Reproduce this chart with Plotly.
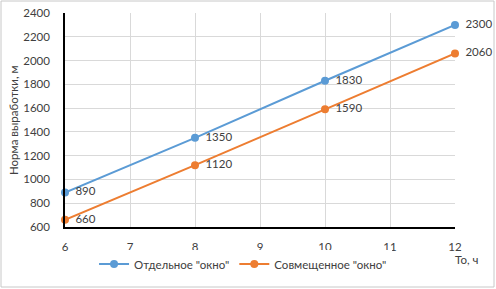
import plotly.graph_objects as go

x_vals = [6, 8, 10, 12]
separate = [890, 1350, 1830, 2300]
combined = [660, 1120, 1590, 2060]
series_names = ['Отдельное "окно"', 'Совмещенное "окно"']
colors = ["#5B9BD5", "#ED7D31"]

W, H = 496, 289
L, R, T, B = 65, 41, 13, 62
PW, PH = W - L - R, H - T - B

fig = go.Figure()
for name, vals, col in zip(series_names, [separate, combined], colors):
    fig.add_trace(go.Scatter(
        x=x_vals, y=vals, name=name, mode="lines+markers+text",
        line=dict(color=col, width=2), marker=dict(color=col, size=8),
        text=[" \u2009" + str(v) for v in vals], textposition="middle right",
        textfont=dict(size=11.5, color="#404040"), cliponaxis=False,
    ))

font = "Lato, Carlito, 'Liberation Sans', sans-serif"
fig.update_layout(
    width=W, height=H,
    margin=dict(l=L, r=R, t=T, b=B, autoexpand=False),
    paper_bgcolor="white", plot_bgcolor="white",
    font=dict(family=font, size=11.5, color="#404040"),
    showlegend=True,
    legend=dict(orientation="h", x=0.49, xref="container", xanchor="center",
                y=(H - 264) / H, yref="container", yanchor="middle",
                font=dict(size=11.5, color="#404040"), itemwidth=30),
    xaxis=dict(range=[6, 12], dtick=1, showgrid=True, gridcolor="#D9D9D9",
               showline=True, linecolor="black", linewidth=1.5, zeroline=False,
               ticks="", ticklen=0, ticklabelstandoff=8, automargin=False),
    yaxis=dict(range=[600, 2400], dtick=200, showgrid=True, gridcolor="#D9D9D9",
               showline=True, linecolor="black", linewidth=1.5, zeroline=False,
               ticks="", ticklabelstandoff=11, automargin=False),
    annotations=[
        dict(text="То, ч", x=(453 - L) / PW, xref="paper", y=-(259 - T - PH) / PH,
             yref="paper", xanchor="left", yanchor="middle", showarrow=False,
             font=dict(size=11.5, color="#404040")),
        dict(text="Норма выработки, м", textangle=-90, x=(13 - L) / PW, xref="paper",
             y=0.5, yref="paper", xanchor="center", yanchor="middle", showarrow=False,
             font=dict(size=11.5, color="#404040")),
    ],
)
fig.add_shape(type="rect", xref="paper", yref="paper",
              x0=-(L - 1) / PW, x1=1 + (R - 2) / PW, y0=-(B - 2) / PH, y1=1 + (T - 1) / PH,
              line=dict(color="#C8C8C8", width=1))
fig.write_html("out.html")
